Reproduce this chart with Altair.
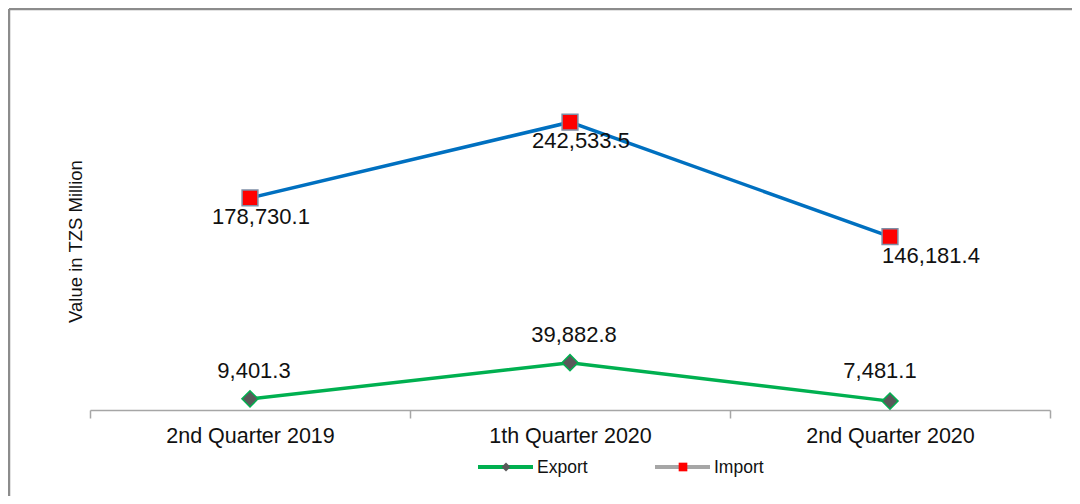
import altair as alt
import pandas as pd

quarters = ["2nd Quarter 2019", "1th Quarter 2020", "2nd Quarter 2020"]
export_values = [9401.3, 39882.8, 7481.1]
import_values = [178730.1, 242533.5, 146181.4]
series_names = ["Export", "Import"]
y_title = "Value in TZS Million"

rows = []
for i, q in enumerate(quarters):
    rows.append({"quarter": q, "idx": i, "series": "Export", "value": export_values[i],
                 "label": f"{export_values[i]:,.1f}"})
    rows.append({"quarter": q, "idx": i, "series": "Import", "value": import_values[i],
                 "label": f"{import_values[i]:,.1f}"})
df = pd.DataFrame(rows)

FONT = "Liberation Sans, Arial, sans-serif"
NARROW = "Liberation Sans Narrow, Arial Narrow, Liberation Sans, sans-serif"

x_enc = alt.X(
    "quarter:N", sort=quarters, bandPosition=0.5,
    scale=alt.Scale(type="band", paddingInner=0, paddingOuter=0),
    axis=alt.Axis(title=None, labelAngle=0, tickBand="extent", domainColor="#A6A6A6",
                  domainWidth=1.5, tickColor="#A6A6A6", tickWidth=1.5, tickSize=8,
                  labelFont=FONT, labelFontSize=21.5, labelColor="#111111", labelPadding=7,
                  grid=False),
)
y_enc = alt.Y(
    "value:Q", scale=alt.Scale(domain=[0, 300000]),
    axis=alt.Axis(title=y_title, labels=False, ticks=False, domain=False, grid=False,
                  titleFont=NARROW, titleFontSize=18.5, titleFontWeight="normal",
                  titleColor="#111111", titleX=-15, titleY=187, titleAngle=-90,
                  titleAlign="center", titleBaseline="middle", minExtent=0),
)

base = alt.Chart(df).encode(x=x_enc, y=y_enc)

imp = base.transform_filter(alt.datum.series == "Import")
exp = base.transform_filter(alt.datum.series == "Export")

imp_line = imp.mark_line(color="#0070C0", strokeWidth=3.5)
exp_line = exp.mark_line(color="#00B050", strokeWidth=3.5)
imp_pts = imp.mark_point(shape="square", filled=True, fill="#FF0000", stroke="#7F8FA6",
                         strokeWidth=1.5, size=250, opacity=1)
exp_pts = exp.mark_point(shape="diamond", filled=True, fill="#595959", stroke="#00B050",
                         strokeWidth=1.5, size=260, opacity=1)

def labels(src, cond, dx, dy):
    return src.transform_filter(cond).mark_text(
        font=FONT, fontSize=22, color="#111111", dx=dx, dy=dy, baseline="middle"
    ).encode(text="label:N")

imp_lab1 = labels(imp, alt.datum.idx < 2, 11, 19)
imp_lab2 = labels(imp, alt.datum.idx == 2, 41, 19)
exp_lab1 = labels(exp, alt.datum.idx < 2, 4, -28)
exp_lab2 = labels(exp, alt.datum.idx == 2, -10, -30)

# decorative frame and custom legend
one = alt.Data(values=[{"k": 1}])
frame_left = alt.Chart(one).mark_rule(color="#8C8C8C", strokeWidth=2.5).encode(
    x=alt.value(-81), y=alt.value(-45), y2=alt.value(600))
frame_top = alt.Chart(one).mark_rule(color="#8C8C8C", strokeWidth=2.5).encode(
    x=alt.value(-81), x2=alt.value(1200), y=alt.value(-45))

leg_exp_line = alt.Chart(one).mark_rule(color="#00B050", strokeWidth=4).encode(
    x=alt.value(388), x2=alt.value(443), y=alt.value(413))
leg_exp_pt = alt.Chart(one).mark_point(shape="diamond", filled=True, fill="#595959",
                                       size=80, opacity=1).encode(
    x=alt.value(416), y=alt.value(413))
leg_exp_txt = alt.Chart(one).mark_text(font=FONT, fontSize=17.5, color="#111111",
                                       align="left", baseline="middle",
                                       text=series_names[0]).encode(
    x=alt.value(447), y=alt.value(414))
leg_imp_line = alt.Chart(one).mark_rule(color="#A6A6A6", strokeWidth=4).encode(
    x=alt.value(565), x2=alt.value(620), y=alt.value(413))
leg_imp_pt = alt.Chart(one).mark_point(shape="square", filled=True, fill="#FF0000",
                                       size=75, opacity=1).encode(
    x=alt.value(593), y=alt.value(413))
leg_imp_txt = alt.Chart(one).mark_text(font=FONT, fontSize=17.5, color="#111111",
                                       align="left", baseline="middle",
                                       text=series_names[1]).encode(
    x=alt.value(624), y=alt.value(414))

chart = alt.layer(
    frame_left, frame_top,
    imp_line, exp_line, imp_pts, exp_pts,
    imp_lab1, imp_lab2, exp_lab1, exp_lab2,
    leg_exp_line, leg_exp_pt, leg_exp_txt, leg_imp_line, leg_imp_pt, leg_imp_txt,
).properties(
    width=960, height=356,
    autosize=alt.AutoSizeParams(type="none"),
    padding={"left": 82, "top": 46, "right": 22, "bottom": 86},
    background="white",
).configure_view(strokeWidth=0, stroke="transparent")

chart.save("out.html", embed_options={"renderer": "svg", "actions": False})
